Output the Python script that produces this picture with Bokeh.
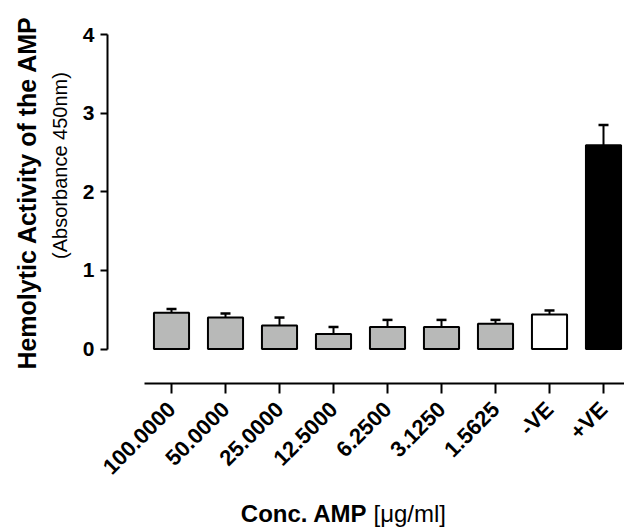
import numpy as np
from bokeh.plotting import figure
from bokeh.models import ColumnDataSource, FixedTicker, Label, Whisker, TeeHead
from bokeh.embed import file_html
from bokeh.resources import INLINE

# ---- data ----
categories = ["100.0000", "50.0000", "25.0000", "12.5000", "6.2500", "3.1250", "1.5625", "-VE", "+VE"]
values = [0.46, 0.40, 0.30, 0.19, 0.28, 0.28, 0.32, 0.44, 2.59]
errors = [0.05, 0.05, 0.10, 0.09, 0.09, 0.09, 0.05, 0.05, 0.26]
bar_colors = ["#b8b9b8"] * 7 + ["#ffffff", "#000000"]
y_ticks = [0, 1, 2, 3, 4]

FONT = "Liberation Sans"

W, H = 624, 529
# pixel layout of the frame (frame covers the whole canvas)
X0_PX, PPX = 171.0, 54.0      # px of category 0, px per category
Y0_PX, PPY = 348.5, 78.625    # px of y=0, px per unit
x_start, x_end = -X0_PX / PPX, (W - X0_PX) / PPX
y_start, y_end = -(H - Y0_PX) / PPY, Y0_PX / PPY

def dx(px):
    return (px - X0_PX) / PPX
def dy(py):
    return (Y0_PX - py) / PPY

p = figure(width=W, height=H, x_range=(x_start, x_end), y_range=(y_start, y_end),
           output_backend="svg", toolbar_location=None,
           min_border_left=0, min_border_right=0, min_border_top=0, min_border_bottom=0)
p.outline_line_color = None
p.xgrid.visible = False
p.ygrid.visible = False
p.background_fill_color = "white"
p.border_fill_color = "white"

xs = list(range(len(categories)))
upper = [v + e for v, e in zip(values, errors)]
src = ColumnDataSource(dict(x=xs, top=values, upper=upper, color=bar_colors))

p.vbar(x="x", top="top", width=0.65, bottom=0, source=src, fill_color="color",
       line_color="black", line_width=2)
p.add_layout(Whisker(source=src, base="x", lower="top", upper="upper",
                     line_color="black", line_width=2,
                     upper_head=TeeHead(size=10, line_width=2.5, line_color="black"),
                     lower_head=None))

# y axis
ya = p.yaxis[0]
ya.fixed_location = dx(107)
ya.ticker = FixedTicker(ticks=y_ticks)
ya.bounds = (0, 4)
ya.axis_line_width = 2
ya.major_tick_line_width = 2
ya.major_tick_out = 7
ya.major_tick_in = 0
ya.minor_tick_line_color = None
ya.major_label_text_font = FONT
ya.major_label_text_font_style = "bold"
ya.major_label_text_font_size = "21px"
ya.major_label_text_color = "black"
ya.major_label_standoff = 6

# x axis
xa = p.xaxis[0]
xa.fixed_location = dy(383)
xa.ticker = FixedTicker(ticks=xs)
xa.major_label_overrides = {i: c for i, c in enumerate(categories)}
xa.bounds = (dx(144), x_end)
xa.axis_line_width = 2
xa.major_tick_line_width = 2
xa.major_tick_out = 10
xa.major_tick_in = 0
xa.minor_tick_line_color = None
xa.major_label_orientation = np.pi / 4
xa.major_label_text_font = FONT
xa.major_label_text_font_style = "bold"
xa.major_label_text_font_size = "22px"
xa.major_label_text_color = "black"
xa.major_label_standoff = 12

p.add_layout(Label(x=dx(26), y=dy(192), text="Hemolytic Activity of the AMP", angle=np.pi / 2,
                   text_font=FONT, text_font_style="bold", text_font_size="25px",
                   text_align="center", text_baseline="middle", text_color="black"))
p.add_layout(Label(x=dx(59), y=dy(165), text="(Absorbance 450nm)", angle=np.pi / 2,
                   text_font=FONT, text_font_style="normal", text_font_size="20px",
                   text_align="center", text_baseline="middle", text_color="black"))
p.add_layout(Label(x=dx(367), y=dy(513), text="Conc. AMP",
                   text_font=FONT, text_font_style="bold", text_font_size="24px",
                   text_align="right", text_baseline="alphabetic", text_color="black"))
p.add_layout(Label(x=dx(373), y=dy(513), text="[\u03bcg/ml]",
                   text_font=FONT, text_font_style="normal", text_font_size="24px",
                   text_align="left", text_baseline="alphabetic", text_color="black"))

open("out.html", "w").write(file_html(p, INLINE))
